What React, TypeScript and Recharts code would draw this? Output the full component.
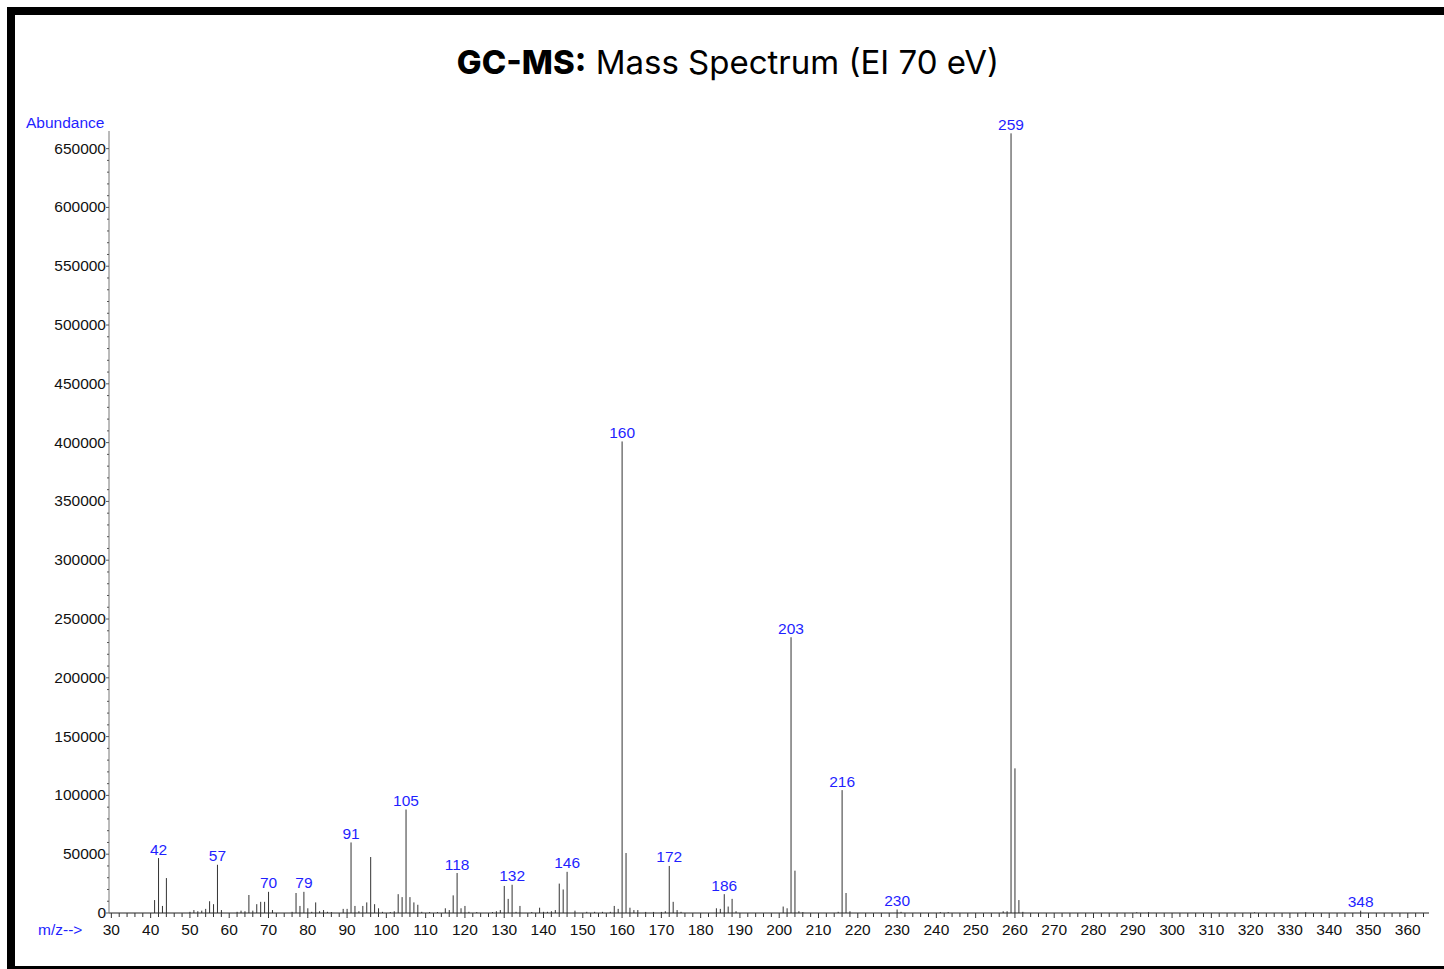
import React from 'react';
import { ComposedChart, Bar, XAxis, YAxis, LabelList } from 'recharts';

// m/z values and their abundances
const masses = [
    41, 42, 43, 44, 50, 51, 52, 53, 54, 55, 56, 57, 58, 62, 63, 64, 65, 66, 67, 68, 69, 70, 71,
    76, 77, 78, 79, 80, 81, 82, 83, 84, 85, 86, 89, 90, 91, 92, 93, 94, 95, 96, 97, 98, 99, 101,
    102, 103, 104, 105, 106, 107, 108, 109, 111, 113, 115, 116, 117, 118, 119, 120, 121, 123,
    127, 128, 129, 130, 131, 132, 133, 134, 137, 139, 140, 141, 142, 143, 144, 145, 146, 148,
    151, 153, 155, 157, 158, 159, 160, 161, 162, 163, 164, 166, 168, 170, 171, 172, 173, 174,
    175, 184, 185, 186, 187, 188, 189, 201, 202, 203, 204, 205, 206, 215, 216, 217, 218, 230,
    231, 241, 243, 257, 258, 259, 260, 261, 262, 291, 294, 321, 334, 348,
];
const abundances = [
    11000, 46700, 6000, 29700, 1000, 2500, 1500, 2000, 3500, 10000, 7500, 41000, 2500, 1000, 2000, 1500, 15300, 2000, 7500, 9500, 9500, 18000, 2500,
    1000, 17000, 6000, 18000, 4000, 1000, 9000, 1500, 2500, 1000, 800, 3500, 3500, 60000, 6000, 1500, 6000, 9000, 47600, 7500, 4000, 1000, 800,
    1500, 16000, 13500, 88000, 13500, 9000, 7000, 1000, 800, 800, 4000, 2500, 15000, 34000, 4000, 6000, 1000, 800,
    800, 1500, 2500, 23000, 12000, 24000, 1000, 6000, 800, 4500, 1000, 1000, 1500, 2500, 25000, 20000, 35000, 2000,
    1000, 1000, 1000, 1000, 6000, 3500, 401000, 51000, 4500, 2500, 2500, 900, 900, 900, 1500, 40000, 9500, 2500,
    1000, 4000, 3500, 16000, 5500, 12000, 1500, 5500, 4000, 234500, 36000, 1500, 800, 1000, 104500, 17000, 1500, 3000,
    1000, 800, 800, 1500, 1500, 663000, 123000, 11000, 1000, 700, 700, 600, 600, 2000,
];
const labelledMasses = [42, 57, 70, 79, 91, 105, 118, 132, 146, 160, 172, 186, 203, 216, 230, 259, 348];

const xTickLabels = [30, 40, 50, 60, 70, 80, 90, 100, 110, 120, 130, 140, 150, 160, 170, 180, 190, 200,
    210, 220, 230, 240, 250, 260, 270, 280, 290, 300, 310, 320, 330, 340, 350, 360];
const yTickLabels = [0, 50000, 100000, 150000, 200000, 250000, 300000, 350000, 400000, 450000, 500000,
    550000, 600000, 650000];

const data = masses.map((mz, i) => ({
    mz,
    abundance: abundances[i],
    label: labelledMasses.includes(mz) ? String(mz) : '',
}));

// minor ticks: every 2 on m/z, every 10000 on abundance
const xTicks = xTickLabels.flatMap(v => [v, v + 2, v + 4, v + 6, v + 8]).filter(v => v <= 364);
const yTicks = yTickLabels.flatMap(v => (v < 650000 ? [v, v + 10000, v + 20000, v + 30000, v + 40000] : [v]));

const FONT = 'Arial, "Liberation Sans", sans-serif';
const BLUE = '#1f1fff';
const FS = 15.5;

const XTick = (props: any) => {
    const { x, y, payload } = props;
    const major = payload.value % 10 === 0;
    return (
        <g>
            <line x1={x} x2={x} y1={y} y2={y + (major ? 5 : 4)} stroke="#333" />
            {major && (
                <text x={x} y={y + 22} textAnchor="middle" fontFamily={FONT} fontSize={FS} fill="#111">
                    {payload.value}
                </text>
            )}
        </g>
    );
};

const YTick = (props: any) => {
    const { x, y, payload } = props;
    const major = payload.value % 50000 === 0;
    return (
        <g>
            <line x1={x} x2={x - (major ? 3 : 2)} y1={y} y2={y} stroke="#555" />
            {major && (
                <text x={x - 3} y={y + 5} textAnchor="end" fontFamily={FONT} fontSize={FS} fill="#111">
                    {payload.value}
                </text>
            )}
        </g>
    );
};

// recharts truncates the bar offset, so nudge the 1px stick back onto its m/z
const PeakLine = (props: any) => {
    const { x, y, width, height } = props;
    if (!height || height <= 0) return null;
    const cx = x + width / 2 + 0.5;
    return <line x1={cx} x2={cx} y1={y} y2={y + height} stroke="#333" strokeWidth={1} />;
};

const PeakLabel = (props: any) => {
    const { x, y, width, value } = props;
    if (!value) return null;
    return (
        <text x={x + width / 2 + 0.5} y={y - 3.5} textAnchor="middle" fontFamily={FONT} fontSize={FS} fill={BLUE}>
            {value}
        </text>
    );
};

export default function App() {
    return (
        <div style={{ position: 'fixed', left: 0, top: 0, width: 1444, height: 969, overflow: 'hidden', background: '#fff' }}>
            <div
                style={{
                    position: 'absolute', left: 7, top: 7, width: 1480, height: 967,
                    border: '8px solid #000', boxSizing: 'border-box',
                }}
            />
            <div style={{ position: 'absolute', left: 0, top: 0 }}>
                <ComposedChart width={1444} height={969} data={data} margin={{ top: 131, right: 15, bottom: 26, left: 49 }}>
                    <XAxis
                        dataKey="mz"
                        type="number"
                        domain={[29.4, 365.4]}
                        ticks={xTicks}
                        interval={0}
                        tickSize={0}
                        tickMargin={0}
                        height={30}
                        tick={<XTick />}
                        axisLine={{ stroke: '#222' }}
                        allowDataOverflow
                    />
                    <YAxis
                        type="number"
                        domain={[0, 665000]}
                        ticks={yTicks}
                        interval={0}
                        tickSize={0}
                        tickMargin={0}
                        width={60}
                        tick={<YTick />}
                        axisLine={{ stroke: '#777' }}
                        allowDataOverflow
                    />
                    <Bar dataKey="abundance" barSize={1} shape={<PeakLine />} isAnimationActive={false}>
                        <LabelList dataKey="label" content={<PeakLabel />} />
                    </Bar>
                </ComposedChart>
            </div>
            <svg width={1444} height={969} style={{ position: 'absolute', left: 0, top: 0, pointerEvents: 'none' }}>
                <text x={728} y={74} textAnchor="middle" fontFamily='Inter, "Open Sans", sans-serif' fontSize={33} fill="#000">
                    <tspan fontWeight={800}>GC-MS:</tspan>
                    <tspan fontWeight={400}> Mass Spectrum (EI 70 eV)</tspan>
                </text>
                <text x={26} y={128} fontFamily={FONT} fontSize={FS} fill={BLUE}>Abundance</text>
                <text x={38} y={935} fontFamily={FONT} fontSize={FS} fill={BLUE}>m/z--&gt;</text>
            </svg>
        </div>
    );
}
